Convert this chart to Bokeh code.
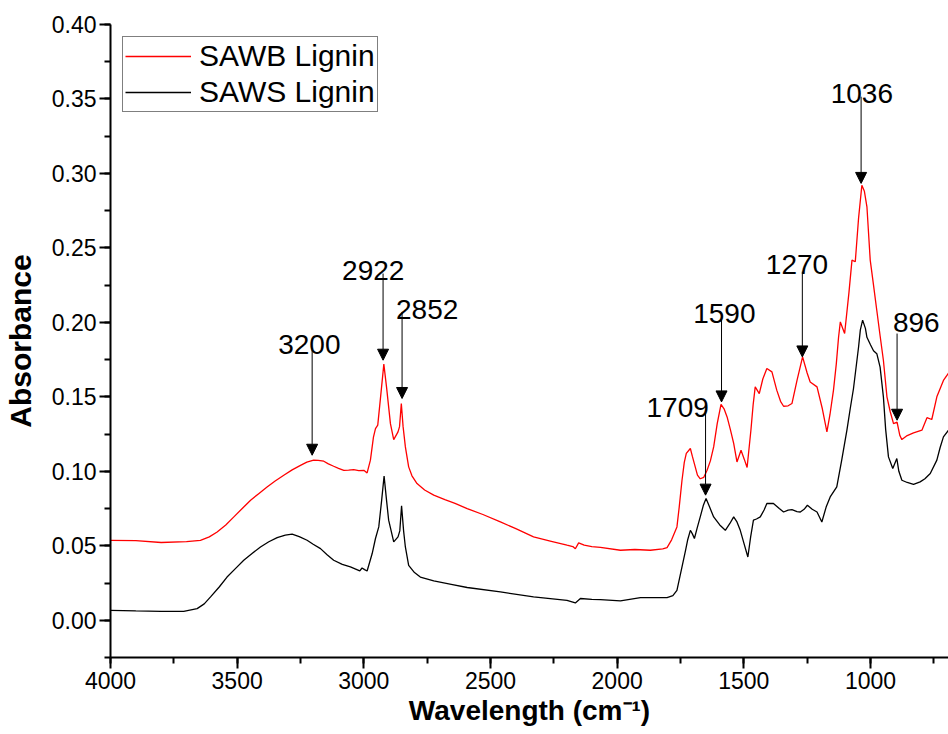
from bokeh.plotting import figure
from bokeh.models import (Range1d, SingleIntervalTicker, NumeralTickFormatter, Legend,
                          LegendItem, Arrow, NormalHead, ColumnDataSource)
from bokeh.core.properties import value
from bokeh.embed import file_html
from bokeh.resources import INLINE

# ---------------- data ----------------
sawb_x = [4000, 3900, 3800, 3700, 3645, 3610, 3579, 3545, 3513, 3480, 3447, 3415, 3382, 3350,
          3316, 3283, 3250, 3225, 3198, 3180, 3158, 3140, 3119, 3100, 3079, 3060, 3040, 3020,
          3000, 2987, 2974, 2962, 2954, 2945, 2935, 2921, 2910, 2895, 2882, 2865, 2859, 2852,
          2845, 2836, 2823, 2810, 2790, 2760, 2724, 2680, 2640, 2592, 2530, 2461, 2400, 2330,
          2260, 2198, 2175, 2165, 2152, 2130, 2100, 2066, 1987, 1930, 1869, 1820, 1803, 1785,
          1764, 1755, 1744, 1735, 1727, 1711, 1703, 1695, 1683, 1672, 1658, 1645, 1632, 1619,
          1605, 1590, 1578, 1566, 1553, 1540, 1527, 1511, 1498, 1487, 1472, 1463, 1455, 1439,
          1425, 1409, 1389, 1370, 1355, 1343, 1325, 1310, 1290, 1268, 1250, 1238, 1211, 1190,
          1172, 1160, 1146, 1135, 1126, 1119, 1102, 1085, 1073, 1060, 1047, 1034, 1024, 1014,
          1001, 988, 975, 962, 949, 935, 922, 909, 895, 884, 876, 855, 830, 797, 777, 758,
          738, 712, 692]
sawb_y = [0.0537, 0.0535, 0.0522, 0.0528, 0.0537, 0.0560, 0.0593, 0.0640, 0.0694, 0.0750,
          0.0806, 0.0850, 0.0895, 0.0935, 0.0974, 0.1010, 0.1040, 0.1062, 0.1075, 0.1074,
          0.1068, 0.1050, 0.1034, 0.1020, 0.1007, 0.1008, 0.1012, 0.1005, 0.1007, 0.0989,
          0.1075, 0.1230, 0.1287, 0.1310, 0.1480, 0.1720, 0.1560, 0.1320, 0.1213, 0.1265,
          0.1300, 0.1455, 0.1300, 0.1164, 0.1030, 0.0970, 0.0918, 0.0875, 0.0840, 0.0810,
          0.0785, 0.0750, 0.0710, 0.0660, 0.0615, 0.0560, 0.0530, 0.0504, 0.0495, 0.0480,
          0.0520, 0.0505, 0.0495, 0.0490, 0.0470, 0.0475, 0.0470, 0.0480, 0.0488, 0.0540,
          0.0627, 0.0760, 0.0940, 0.1060, 0.1120, 0.1153, 0.1100, 0.1050, 0.0975, 0.0950,
          0.0960, 0.1007, 0.1070, 0.1164, 0.1320, 0.1450, 0.1420, 0.1365, 0.1280, 0.1187,
          0.1063, 0.1142, 0.1080, 0.1026, 0.1276, 0.1450, 0.1567, 0.1522, 0.1620, 0.1690,
          0.1668, 0.1545, 0.1470, 0.1437, 0.1440, 0.1455, 0.1610, 0.1768, 0.1660, 0.1600,
          0.1567, 0.1420, 0.1265, 0.1380, 0.1545, 0.1720, 0.1900, 0.2003, 0.1925, 0.2200,
          0.2418, 0.2407, 0.2700, 0.2920, 0.2880, 0.2776, 0.2418, 0.2250, 0.2080, 0.1910,
          0.1746, 0.1500, 0.1400, 0.1320, 0.1330, 0.1240, 0.1213, 0.1240, 0.1258, 0.1276,
          0.1360, 0.1348, 0.1500, 0.1610, 0.1660]

saws_x = [4000, 3900, 3800, 3711, 3658, 3630, 3605, 3570, 3540, 3505, 3474, 3440, 3408, 3375,
          3342, 3310, 3283, 3255, 3224, 3200, 3171, 3145, 3119, 3085, 3053, 3016, 3007, 2997,
          2987, 2967, 2954, 2941, 2930, 2920, 2910, 2902, 2882, 2865, 2858, 2851, 2843, 2836,
          2823, 2800, 2777, 2724, 2650, 2592, 2461, 2330, 2198, 2165, 2145, 2100, 2066, 1987,
          1908, 1803, 1780, 1764, 1744, 1730, 1722, 1711, 1703, 1695, 1684, 1672, 1660, 1649,
          1635, 1619, 1595, 1573, 1555, 1540, 1527, 1514, 1500, 1484, 1473, 1462, 1450, 1435,
          1420, 1409, 1383, 1360, 1343, 1325, 1310, 1290, 1277, 1262, 1249, 1230, 1211, 1192,
          1175, 1159, 1133, 1113, 1093, 1080, 1067, 1047, 1040, 1031, 1020, 1014, 1000, 988,
          975, 962, 949, 940, 929, 912, 896, 888, 876, 855, 830, 804, 785, 764, 738, 725,
          712, 692]
saws_y = [0.0067, 0.0063, 0.0060, 0.0060, 0.0078, 0.0110, 0.0157, 0.0225, 0.0290, 0.0350,
          0.0403, 0.0450, 0.0492, 0.0527, 0.0555, 0.0572, 0.0578, 0.0562, 0.0537, 0.0510,
          0.0481, 0.0440, 0.0403, 0.0375, 0.0358, 0.0331, 0.0351, 0.0340, 0.0331, 0.0448,
          0.0549, 0.0627, 0.0800, 0.0969, 0.0800, 0.0672, 0.0526, 0.0560, 0.0600, 0.0768,
          0.0600, 0.0492, 0.0369, 0.0320, 0.0290, 0.0264, 0.0240, 0.0220, 0.0190, 0.0157,
          0.0134, 0.0116, 0.0146, 0.0140, 0.0139, 0.0130, 0.0152, 0.0152, 0.0165, 0.0201,
          0.0358, 0.0470, 0.0537, 0.0604, 0.0580, 0.0549, 0.0620, 0.0694, 0.0770, 0.0817,
          0.0760, 0.0694, 0.0640, 0.0604, 0.0650, 0.0694, 0.0660, 0.0604, 0.0520, 0.0425,
          0.0560, 0.0672, 0.0680, 0.0694, 0.0740, 0.0784, 0.0784, 0.0750, 0.0727, 0.0740,
          0.0743, 0.0730, 0.0727, 0.0745, 0.0772, 0.0745, 0.0727, 0.0660, 0.0760, 0.0828,
          0.0895, 0.1080, 0.1276, 0.1420, 0.1556, 0.1835, 0.1950, 0.2015, 0.1960, 0.1900,
          0.1850, 0.1810, 0.1790, 0.1700, 0.1500, 0.1280, 0.1097, 0.1019, 0.1086, 0.1000,
          0.0940, 0.0925, 0.0913, 0.0929, 0.0950, 0.0985, 0.1075, 0.1160, 0.1231, 0.1276]

# peak annotations
peak_labels = ["3200", "2922", "2852", "1709", "1590", "1270", "1036", "896"]
arrow_x = [3204, 2924, 2849, 1651, 1588, 1269, 1037, 895]
arrow_y_start = [0.1827, 0.2328, 0.2070, 0.1410, 0.2037, 0.2340, 0.3515, 0.1925]
arrow_y_end = [0.1108, 0.1746, 0.1489, 0.0840, 0.1466, 0.1768, 0.2933, 0.1343]
label_x = [3215, 2963, 2750, 1761, 1577, 1290, 1034, 819]
label_y = [0.1854, 0.2346, 0.2087, 0.1428, 0.2060, 0.2391, 0.3539, 0.2001]

FONT = "Liberation Sans"

p = figure(width=948, height=734, output_backend="svg", toolbar_location=None,
           x_range=Range1d(4000, 692), y_range=Range1d(-0.025, 0.40),
           min_border_left=110, min_border_right=0, min_border_top=24, min_border_bottom=77)
p.outline_line_color = None
p.xgrid.visible = False
p.ygrid.visible = False
p.background_fill_color = "white"
p.border_fill_color = "white"

r_b = p.line(sawb_x, sawb_y, line_color="#ff0000", line_width=1.3)
r_s = p.line(saws_x, saws_y, line_color="black", line_width=1.3)

# axes
p.xaxis.ticker = SingleIntervalTicker(interval=500, num_minor_ticks=2)
p.yaxis.ticker = SingleIntervalTicker(interval=0.05, num_minor_ticks=2)
p.yaxis.formatter = NumeralTickFormatter(format="0.00")
for ax in (p.xaxis[0], p.yaxis[0]):
    ax.axis_line_width = 2
    ax.axis_line_color = "black"
    ax.major_tick_line_width = 2
    ax.minor_tick_line_width = 2
    ax.major_tick_in = 0
    ax.major_tick_out = 11
    ax.minor_tick_in = 0
    ax.minor_tick_out = 6
    ax.major_label_text_font = FONT
    ax.major_label_text_font_size = "23px"
    ax.major_label_text_color = "black"
    ax.major_label_standoff = 3
    ax.axis_label_text_font = FONT
    ax.axis_label_text_font_style = "bold"
    ax.axis_label_text_color = "black"
p.xaxis.axis_label = "Wavelength (cm⁻¹)"
p.yaxis.axis_label = "Absorbance"
p.xaxis.axis_label_text_font_size = "28px"
p.yaxis.axis_label_text_font_size = "30px"
p.xaxis.axis_label_standoff = 3
p.yaxis.axis_label_standoff = 12

# annotations
src = ColumnDataSource(dict(xs=arrow_x, y0=arrow_y_start, y1=arrow_y_end))
p.add_layout(Arrow(end=NormalHead(size=11, fill_color="black", line_color="black", line_width=1),
                   x_start="xs", y_start="y0", x_end="xs", y_end="y1", source=src,
                   line_color="black", line_width=1))
p.text(x=label_x, y=label_y, text=peak_labels, text_font=value(FONT), text_font_size="28px",
       text_align="center", text_baseline="alphabetic", text_color="black")

legend = Legend(items=[LegendItem(label="SAWB Lignin", renderers=[r_b]),
                       LegendItem(label="SAWS Lignin", renderers=[r_s])],
                location="top_left")
legend.margin = 12
legend.padding = 2
legend.spacing = 2
legend.glyph_width = 66
legend.glyph_height = 32
legend.label_height = 32
legend.label_standoff = 8
legend.label_text_font = FONT
legend.label_text_font_size = "30px"
legend.label_text_color = "black"
legend.border_line_color = "black"
legend.border_line_width = 1
legend.background_fill_alpha = 1
p.add_layout(legend)

open("out.html", "w").write(file_html(p, INLINE))
